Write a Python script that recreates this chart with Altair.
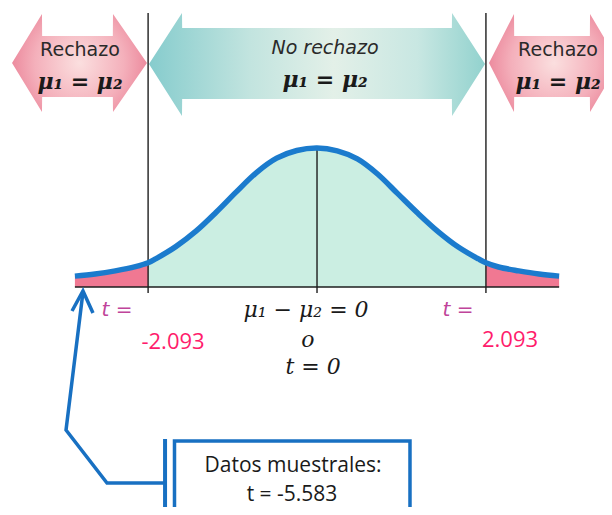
import altair as alt
import pandas as pd

# ---- data ----
# t-distribution curve (x in t units, y in density units)
t_vals = [-3.0, -2.75, -2.5, -2.25, -2.093, -2.0, -1.75, -1.5, -1.25, -1.0, -0.75, -0.5, -0.25,
          0.0, 0.25, 0.5, 0.75, 1.0, 1.25, 1.5, 1.75, 2.0, 2.093, 2.25, 2.5, 2.75, 3.0]
dens_vals = [0.031, 0.037, 0.046, 0.058, 0.069, 0.080, 0.115, 0.159, 0.213, 0.271, 0.326, 0.367, 0.389,
             0.396, 0.388, 0.365, 0.322, 0.266, 0.210, 0.158, 0.114, 0.080, 0.069, 0.057, 0.046, 0.037, 0.031]
t_crit = 2.093
peak = 0.396

# labels
region_names = ["Rechazo", "No rechazo", "Rechazo"]
hyp_label = "μ₁ = μ₂"
center_labels = ["μ₁ − μ₂ = 0", "o", "t = 0"]
crit_labels = ["-2.093", "2.093"]
box_lines = ["Datos muestrales:", "t = -5.583"]

# ---- layout (data-unit coordinates) ----
X = alt.Scale(domain=[-3.829, 3.556], nice=False, zero=False)
Y = alt.Scale(domain=[-0.6268, 0.7949], nice=False, zero=False)


def xe(f):
    return alt.X(f, type="quantitative", scale=X, axis=None)


def ye(f):
    return alt.Y(f, type="quantitative", scale=Y, axis=None)


curve = pd.DataFrame({"t": t_vals, "d": dens_vals})
left_tail = curve[curve.t <= -t_crit].assign(side="L")
right_tail = curve[curve.t >= t_crit].assign(side="R")
tails = pd.concat([left_tail, right_tail])
middle = curve[(curve.t >= -t_crit) & (curve.t <= t_crit)]

EPS = 0.002


# double arrows at top (polygon as area: x, top, bottom)
def double_arrow(name, xl, hl, hr, xr, c, ht, hb, st, sb):
    return pd.DataFrame({
        "arrow": name,
        "t": [xl, hl, hl + EPS, hr - EPS, hr, xr],
        "top": [c, ht, st, st, ht, c],
        "bot": [c, hb, sb, sb, hb, c],
    })


pink_shape = dict(c=0.6382, ht=0.7778, hb=0.4986, st=0.7151, sb=0.5413)
teal_shape = dict(c=0.6353, ht=0.7806, hb=0.4872, st=0.7379, sb=0.5356)

pink_arrows = pd.concat([
    double_arrow("L", -3.779, -3.408, -2.528, -2.107, **pink_shape),
    double_arrow("R", 2.131, 2.441, 3.383, 3.742, **pink_shape),
])
teal_arrow = double_arrow("M", -2.082, -1.673, 1.673, 2.082, **teal_shape)

pink_grad = alt.RadialGradient(
    gradient="radial", x1=0.5, y1=0.5, r1=0.0, x2=0.5, y2=0.5, r2=0.6,
    stops=[alt.GradientStop(color="#fbdfdf", offset=0),
           alt.GradientStop(color="#f4b0bb", offset=0.55),
           alt.GradientStop(color="#e8758d", offset=1)])
teal_grad = alt.LinearGradient(
    gradient="linear", x1=0, y1=0, x2=1, y2=0,
    stops=[alt.GradientStop(color="#86cccd", offset=0),
           alt.GradientStop(color="#c2e4df", offset=0.3),
           alt.GradientStop(color="#e3f0e8", offset=0.55),
           alt.GradientStop(color="#c8e7e2", offset=0.8),
           alt.GradientStop(color="#92d2ce", offset=1)])

pink_layer = alt.Chart(pink_arrows).mark_area(color=pink_grad).encode(
    x=xe("t"), y=ye("top"), y2="bot", detail="arrow:N")
teal_layer = alt.Chart(teal_arrow).mark_area(color=teal_grad).encode(
    x=xe("t"), y=ye("top"), y2="bot")

mid_area = alt.Chart(middle).mark_area(color="#cbeee2", interpolate="catmull-rom").encode(
    x=xe("t"), y=ye("d"), y2=alt.datum(0))
tail_area = alt.Chart(tails).mark_area(color="#f07892", interpolate="catmull-rom").encode(
    x=xe("t"), y=ye("d"), y2=alt.datum(0), detail="side:N")

rules_df = pd.DataFrame({"t": [-t_crit, t_crit, 0.0],
                         "y1": [0.7806, 0.7806, peak],
                         "y2": [-0.0171, -0.0171, -0.0171]})
rules = alt.Chart(rules_df).mark_rule(color="#1e1e1e", strokeWidth=1.4).encode(
    x=xe("t"), y=ye("y1"), y2="y2")

base_df = pd.DataFrame({"t": [t_vals[0]], "t2": [t_vals[-1]], "y": [0.0]})
baseline = alt.Chart(base_df).mark_rule(color="#1e1e1e", strokeWidth=1.6).encode(
    x=xe("t"), x2="t2", y=ye("y"))

curve_line = alt.Chart(curve).mark_line(color="#1b7bcd", strokeWidth=5.5, interpolate="catmull-rom").encode(
    x=xe("t"), y=ye("d"))

# top texts
rech_df = pd.DataFrame({"t": [-2.937, 2.986], "y": [0.6752, 0.6752], "txt": [region_names[0], region_names[2]]})
rech = alt.Chart(rech_df).mark_text(
    font="DejaVu Sans", fontSize=19, color="#2a2a2a", align="center", baseline="middle"
).encode(x=xe("t"), y=ye("y"), text="txt")

norech_df = pd.DataFrame({"t": [0.099], "y": [0.6809], "txt": [region_names[1]]})
norech = alt.Chart(norech_df).mark_text(
    font="DejaVu Sans", fontStyle="italic", fontSize=19, color="#2a2a2a", align="center", baseline="middle"
).encode(x=xe("t"), y=ye("y"), text="txt")

hyp_df = pd.DataFrame({"t": [-2.937, 0.099, 2.986], "y": [0.5840, 0.5897, 0.5840], "txt": [hyp_label] * 3})
hyp = alt.Chart(hyp_df).mark_text(
    font="DejaVu Serif", fontStyle="italic", fontWeight="bold", fontSize=22, color="#1a1a1a",
    align="center", baseline="middle"
).encode(x=xe("t"), y=ye("y"), text="txt")

# bottom texts
teq_df = pd.DataFrame({"t": [-2.478, 1.747], "y": [-0.0655, -0.0655], "txt": ["t =", "t ="]})
teq = alt.Chart(teq_df).mark_text(
    font="DejaVu Sans", fontStyle="italic", fontSize=20, color="#c0449a", align="center", baseline="middle"
).encode(x=xe("t"), y=ye("y"), text="txt")

crit_df = pd.DataFrame({"t": [-1.784, 2.392], "y": [-0.1567, -0.1510], "txt": crit_labels})
crit = alt.Chart(crit_df).mark_text(
    font="Open Sans", fontSize=22, color="#ff1c6c", align="center", baseline="middle"
).encode(x=xe("t"), y=ye("y"), text="txt")

cen_df = pd.DataFrame({"t": [-0.136, -0.112, -0.0496], "y": [-0.0655, -0.1510, -0.2279], "txt": center_labels})
cen = alt.Chart(cen_df).mark_text(
    font="DejaVu Serif", fontStyle="italic", fontSize=22, color="#1a1a1a", align="center", baseline="middle"
).encode(x=xe("t"), y=ye("y"), text="txt")

# pointer arrow from the box to the tail
path_df = pd.DataFrame({"i": [0, 1, 2, 3],
                        "t": [-1.883, -2.602, -3.110, -2.900],
                        "y": [-0.5584, -0.5584, -0.4074, -0.0142]})
pointer = alt.Chart(path_df).mark_line(color="#1870c2", strokeWidth=3.5, strokeJoin="miter").encode(
    x=xe("t"), y=ye("y"), order="i:Q")
head_df = pd.DataFrame({"i": [0, 1, 2], "t": [-3.036, -2.900, -2.776], "y": [-0.0684, -0.0114, -0.0741]})
head = alt.Chart(head_df).mark_line(color="#1870c2", strokeWidth=3.5, strokeJoin="miter").encode(
    x=xe("t"), y=ye("y"), order="i:Q")

bar_df = pd.DataFrame({"t": [-1.883], "y1": [-0.4330], "y2": [-0.70]})
bar = alt.Chart(bar_df).mark_rule(color="#1870c2", strokeWidth=4).encode(
    x=xe("t"), y=ye("y1"), y2="y2")

box_df = pd.DataFrame({"t": [-1.766], "t2": [1.152], "y1": [-0.4387], "y2": [-0.70]})
box = alt.Chart(box_df).mark_rect(fill="white", stroke="#1870c2", strokeWidth=3.5).encode(
    x=xe("t"), x2="t2", y=ye("y1"), y2="y2")

box_txt_df = pd.DataFrame({"t": [-0.297, -0.310], "y": [-0.5100, -0.5926], "txt": box_lines})
box_txt = alt.Chart(box_txt_df).mark_text(
    font="Open Sans", fontSize=21, color="#1a1a1a", align="center", baseline="middle"
).encode(x=xe("t"), y=ye("y"), text="txt")

chart = alt.layer(
    pink_layer, teal_layer, mid_area, tail_area, rules, baseline, curve_line,
    rech, norech, hyp, teq, crit, cen, pointer, head, bar, box, box_txt
).properties(
    width=596, height=499, padding=0, autosize=alt.AutoSizeParams(type="none"), background="white"
).configure_view(stroke=None)

chart.save("out.html", embed_options={"renderer": "svg", "actions": False})
